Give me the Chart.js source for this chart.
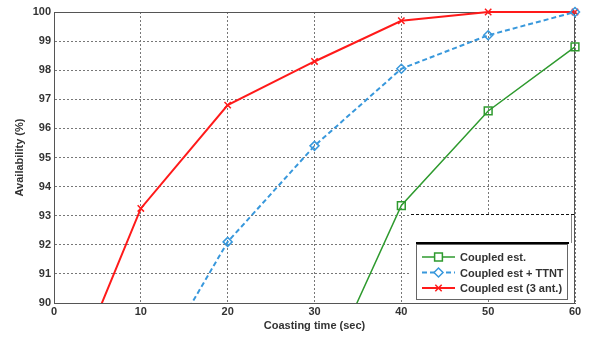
<!DOCTYPE html>
<html>
<head>
<meta charset="utf-8">
<script src="https://cdn.jsdelivr.net/npm/chart.js@4"></script>
<style>
  html, body { margin: 0; padding: 0; background: #fff; }
  #wrap { width: 592px; height: 339px; }
</style>
</head>
<body>
<div id="wrap"><canvas id="chart"></canvas></div>
<script>
// data
const coastTime = [0, 10, 20, 30, 40, 50, 60];
const coupledEst = [null, null, null, 86.8, 93.35, 96.6, 98.8];
const coupledTtnt = [null, 87.0, 92.1, 95.4, 98.05, 99.2, 100];
const coupled3Ant = [86.0, 93.25, 96.8, 98.3, 99.7, 100, 100];
const xTicks = [0, 10, 20, 30, 40, 50, 60];
const yTicks = [90, 91, 92, 93, 94, 95, 96, 97, 98, 99, 100];

const tickFont = { family: 'Liberation Sans', size: 11, weight: 'bold' };
const textColor = '#333';

function pts(ys) {
  const out = [];
  ys.forEach((y, i) => { if (y !== null) out.push({ x: coastTime[i], y: y }); });
  return out;
}

// full box around plot area
const boxPlugin = {
  id: 'box',
  beforeDatasetsDraw(chart) {
    const a = chart.chartArea, ctx = chart.ctx;
    ctx.save();
    ctx.strokeStyle = '#555';
    ctx.lineWidth = 1;
    ctx.strokeRect(a.left + 0.5, a.top + 0.5, a.right - a.left - 1, a.bottom - a.top);
    ctx.restore();
  }
};

// legend box drawn inside the plot, bottom right
const legendPlugin = {
  id: 'boxLegend',
  afterDraw(chart) {
    const a = chart.chartArea, ctx = chart.ctx;
    const r = a.right - 3;
    ctx.save();
    // blank patch above the legend
    ctx.fillStyle = '#fff';
    ctx.fillRect(r - 161, a.bottom - 89, 162, 85);
    ctx.strokeStyle = '#111';
    ctx.lineWidth = 1;
    ctx.setLineDash([3, 2]);
    ctx.beginPath();
    ctx.moveTo(r - 161, a.bottom - 88.5);
    ctx.lineTo(a.right, a.bottom - 88.5);
    ctx.stroke();
    ctx.setLineDash([]);
    ctx.strokeStyle = '#888';
    ctx.beginPath();
    ctx.moveTo(r - 0.5, a.bottom - 88);
    ctx.lineTo(r - 0.5, a.bottom - 60);
    ctx.stroke();
    ctx.strokeStyle = '#000';
    ctx.lineWidth = 2;
    ctx.beginPath();
    ctx.moveTo(r - 156, a.bottom - 60);
    ctx.lineTo(r - 3, a.bottom - 60);
    ctx.stroke();
    // legend frame
    const lx = r - 156, ly = a.bottom - 59, lw = 151, lh = 55;
    ctx.lineWidth = 1;
    ctx.strokeStyle = '#666';
    ctx.strokeRect(lx + 0.5, ly + 0.5, lw, lh);
    ctx.font = 'bold 11px "Liberation Sans"';
    ctx.textBaseline = 'middle';
    ctx.textAlign = 'left';
    chart.data.datasets.forEach((ds, i) => {
      const y = ly + 13 + i * 15.5;
      ctx.strokeStyle = ds.borderColor;
      ctx.lineWidth = ds.borderWidth;
      ctx.setLineDash(ds.borderDash || []);
      ctx.beginPath();
      ctx.moveTo(lx + 6, y);
      ctx.lineTo(lx + 39, y);
      ctx.stroke();
      ctx.setLineDash([]);
      ctx.lineWidth = 1.5;
      ctx.fillStyle = '#fff';
      Chart.helpers.drawPoint(ctx, { pointStyle: ds.pointStyle, radius: ds.pointRadius, borderWidth: 1.5 }, lx + 22.5, y);
      ctx.fillStyle = textColor;
      ctx.fillText(ds.label, lx + 44, y + 1);
    });
    ctx.restore();
  }
};

const ctx = document.getElementById('chart');
new Chart(ctx, {
  type: 'line',
  data: {
    datasets: [
      {
        label: 'Coupled est.',
        data: pts(coupledEst),
        borderColor: '#2e9a2e',
        borderWidth: 1.5,
        pointStyle: 'rect',
        pointRadius: 5.5,
        pointBorderWidth: 1.5,
        pointBackgroundColor: 'rgba(0,0,0,0)',
        pointBorderColor: '#2e9a2e',
        clip: { left: 0, top: 8, right: 8, bottom: 0 }
      },
      {
        label: 'Coupled est + TTNT',
        data: pts(coupledTtnt),
        borderColor: '#3898dc',
        borderWidth: 2,
        borderDash: [5, 3],
        pointStyle: 'rectRot',
        pointRadius: 4.5,
        pointBorderWidth: 1.5,
        pointBackgroundColor: 'rgba(0,0,0,0)',
        pointBorderColor: '#3898dc',
        clip: { left: 0, top: 8, right: 8, bottom: 0 }
      },
      {
        label: 'Coupled est (3 ant.)',
        data: pts(coupled3Ant),
        borderColor: '#ff1a1a',
        borderWidth: 2,
        pointStyle: 'crossRot',
        pointRadius: 4.5,
        pointBorderWidth: 1.5,
        pointBorderColor: '#ff1a1a',
        clip: { left: 0, top: 8, right: 8, bottom: 0 }
      }
    ]
  },
  options: {
    responsive: true,
    maintainAspectRatio: false,
    animation: false,
    layout: { padding: { top: 12, right: 17, left: 0, bottom: 0 } },
    scales: {
      x: {
        type: 'linear',
        min: 0,
        max: 60,
        afterFit: (s) => { s.height = 36; },
        afterBuildTicks: (s) => { s.ticks = xTicks.map(v => ({ value: v })); },
        ticks: { font: tickFont, color: textColor, padding: 2, maxRotation: 0 },
        grid: { color: '#777', lineWidth: 1, drawTicks: false },
        border: { color: '#555', dash: [2, 2] },
        title: {
          display: true,
          text: 'Coasting time (sec)',
          font: tickFont,
          color: textColor,
          padding: { top: 0, bottom: 6 }
        }
      },
      y: {
        min: 90,
        max: 100,
        afterFit: (s) => { s.width = 54; },
        afterBuildTicks: (s) => { s.ticks = yTicks.map(v => ({ value: v })); },
        ticks: { font: tickFont, color: textColor, padding: 3 },
        grid: { color: '#777', lineWidth: 1, drawTicks: false },
        border: { color: '#555', dash: [2, 2] },
        title: {
          display: true,
          text: 'Availability (%)',
          font: tickFont,
          color: textColor,
          padding: { top: 13, bottom: 0 }
        }
      }
    },
    plugins: {
      legend: { display: false },
      tooltip: { enabled: false }
    }
  },
  plugins: [boxPlugin, legendPlugin]
});
</script>
</body>
</html>
